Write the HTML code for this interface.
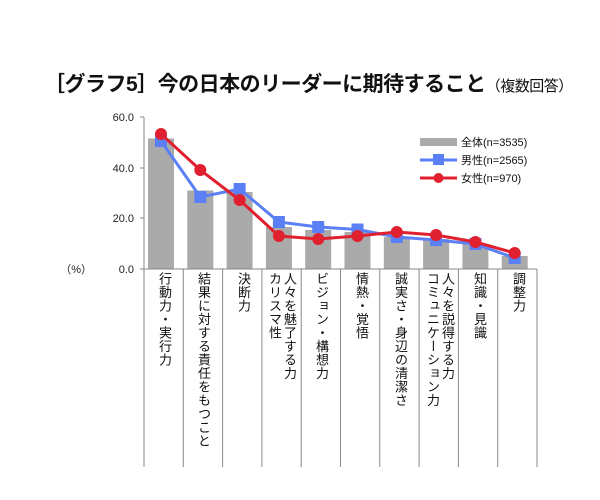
<!DOCTYPE html>
<html><head><meta charset="utf-8"><style>
body{margin:0;background:#fff;width:600px;height:500px;overflow:hidden;font-family:"Liberation Sans","Noto Sans CJK JP",sans-serif}
.v{position:absolute;writing-mode:vertical-rl;font-size:13px;line-height:14px;color:#111;letter-spacing:0.5px}
</style></head><body>
<div style="position:absolute;left:44px;top:68px;font-size:21px;font-weight:bold;white-space:nowrap;color:#111;letter-spacing:-0.5px">［グラフ5］今の日本のリーダーに期待すること<span style="font-size:15px;font-weight:normal">（複数回答）</span></div>
<svg width="600" height="500" style="position:absolute;left:0;top:0" font-family="Liberation Sans,Noto Sans CJK JP,sans-serif">
<g fill="#aaa">
<rect x="148" y="138.5" width="26" height="130.5"/>
<rect x="187.3" y="190.5" width="26" height="78.5"/>
<rect x="226.6" y="192" width="26" height="77"/>
<rect x="265.9" y="227" width="26" height="42"/>
<rect x="305.2" y="230" width="26" height="39"/>
<rect x="344.5" y="232" width="26" height="37"/>
<rect x="383.8" y="237" width="26" height="32"/>
<rect x="423.1" y="239" width="26" height="30"/>
<rect x="462.4" y="244" width="26" height="25"/>
<rect x="501.7" y="256" width="26" height="13"/>
</g>
<g stroke="#888" stroke-width="1">
<line x1="144" y1="117" x2="144" y2="269"/>
<line x1="140" y1="117" x2="144" y2="117"/><line x1="140" y1="168" x2="144" y2="168"/><line x1="140" y1="218" x2="144" y2="218"/>
<line x1="140" y1="269" x2="537" y2="269"/>
<line x1="144" y1="269" x2="144" y2="467"/><line x1="183.3" y1="269" x2="183.3" y2="467"/><line x1="222.6" y1="269" x2="222.6" y2="467"/><line x1="261.9" y1="269" x2="261.9" y2="467"/><line x1="301.2" y1="269" x2="301.2" y2="467"/><line x1="340.5" y1="269" x2="340.5" y2="467"/><line x1="379.8" y1="269" x2="379.8" y2="467"/><line x1="419.1" y1="269" x2="419.1" y2="467"/><line x1="458.4" y1="269" x2="458.4" y2="467"/><line x1="497.7" y1="269" x2="497.7" y2="467"/><line x1="537" y1="269" x2="537" y2="467"/>
</g>
<g font-size="11" fill="#222" text-anchor="end">
<text x="134" y="121">60.0</text><text x="134" y="172">40.0</text><text x="134" y="222">20.0</text><text x="134" y="273">0.0</text>
<text x="92" y="273" font-size="11">（%）</text>
</g>
<polyline fill="none" stroke="#5b7ff5" stroke-width="3" points="161,141 200.3,197 239.6,189 278.9,222 318.2,227 357.5,229.5 396.8,237 436.1,240 475.4,244 514.7,258"/>
<g fill="#5b7ff5">
<rect x="155" y="135" width="12" height="12"/><rect x="194.3" y="191" width="12" height="12"/><rect x="233.6" y="183" width="12" height="12"/><rect x="272.9" y="216" width="12" height="12"/><rect x="312.2" y="221" width="12" height="12"/><rect x="351.5" y="223.5" width="12" height="12"/><rect x="390.8" y="231" width="12" height="12"/><rect x="430.1" y="234" width="12" height="12"/><rect x="469.4" y="238" width="12" height="12"/><rect x="508.7" y="252" width="12" height="12"/>
</g>
<polyline fill="none" stroke="#e0202f" stroke-width="3" points="161,134 200.3,170 239.6,200 278.9,236 318.2,239 357.5,236 396.8,232 436.1,235 475.4,242 514.7,253"/>
<g fill="#e0202f">
<circle cx="161" cy="134" r="6"/><circle cx="200.3" cy="170" r="6"/><circle cx="239.6" cy="200" r="6"/><circle cx="278.9" cy="236" r="6"/><circle cx="318.2" cy="239" r="6"/><circle cx="357.5" cy="236" r="6"/><circle cx="396.8" cy="232" r="6"/><circle cx="436.1" cy="235" r="6"/><circle cx="475.4" cy="242" r="6"/><circle cx="514.7" cy="253" r="6"/>
</g>
<rect x="420" y="138" width="37" height="8" fill="#aaa"/>
<line x1="420" y1="160" x2="457" y2="160" stroke="#5b7ff5" stroke-width="3"/><rect x="433" y="154" width="11" height="11" fill="#5b7ff5"/>
<line x1="420" y1="178" x2="457" y2="178" stroke="#e0202f" stroke-width="3"/><circle cx="438.5" cy="178" r="5" fill="#e0202f"/>
<g font-size="11" fill="#111">
<text x="461" y="146">全体(n=3535)</text><text x="461" y="164">男性(n=2565)</text><text x="461" y="182">女性(n=970)</text>
</g>
</svg>
<div class="v" style="left:157px;top:272px">行動力・実行力</div>
<div class="v" style="left:196px;top:272px">結果に対する責任をもつこと</div>
<div class="v" style="left:236px;top:272px">決断力</div>
<div class="v" style="left:267px;top:272px;line-height:15px">人々を魅了する力<br>カリスマ性</div>
<div class="v" style="left:314px;top:272px">ビジョン・構想力</div>
<div class="v" style="left:354px;top:272px">情熱・覚悟</div>
<div class="v" style="left:393px;top:272px">誠実さ・身辺の清潔さ</div>
<div class="v" style="left:425px;top:272px;line-height:15px">人々を説得する力<br>コミュニケーション力</div>
<div class="v" style="left:472px;top:272px">知識・見識</div>
<div class="v" style="left:511px;top:272px">調整力</div>
</body></html>
